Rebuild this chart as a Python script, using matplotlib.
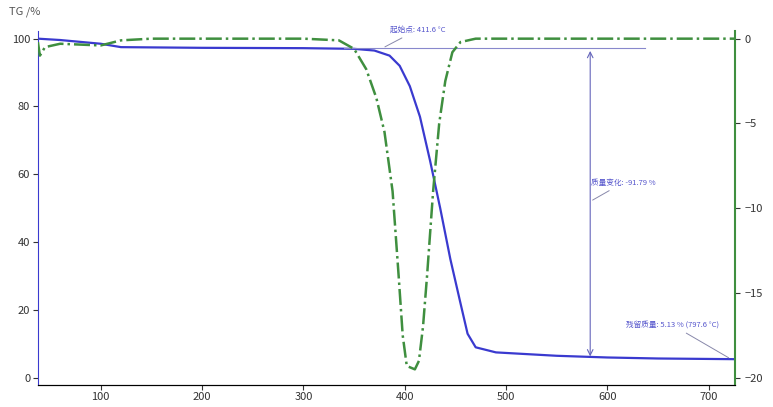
import matplotlib.pyplot as plt

plt.rcParams['font.family'] = ['Noto Sans CJK SC', 'DejaVu Sans']

# TG curve (mass %)
tg_t = [38, 60, 100, 120, 200, 300, 350, 370, 385, 395, 405, 415, 425, 435, 445,
        455, 462, 470, 490, 550, 600, 650, 726]
tg_m = [100, 99.6, 98.5, 97.5, 97.3, 97.2, 97, 96.5, 95, 92, 86, 77, 64, 50, 35,
        22, 13, 9, 7.5, 6.5, 6, 5.7, 5.5]

# DTG curve (right axis)
dtg_t = [38, 40, 45, 60, 100, 120, 150, 300, 335, 350, 362, 372, 380, 388, 394,
         398, 402, 410, 414, 418, 422, 428, 434, 440, 447, 455, 470, 500, 600, 726]
dtg_v = [-0.2, -1.0, -0.5, -0.3, -0.4, -0.1, 0, 0, -0.1, -0.6, -1.8, -3.5, -5.5, -9, -14,
         -17.5, -19.3, -19.5, -19, -17, -14, -9, -5, -2.5, -0.8, -0.2, 0, 0, 0, 0]

blue = '#3a3acf'
green = '#3f8f3f'
lab = '#5555cc'

fig = plt.figure(figsize=(7.73, 4.07), dpi=100)
ax = fig.add_axes([0.049, 0.055, 0.902, 0.87])
ax.plot(tg_t, tg_m, color=blue, lw=1.6)
ax.set_xlim(38, 726)
ax.set_ylim(-2, 102.4)
ax.set_xticks([100, 200, 300, 400, 500, 600, 700])
ax.set_yticks([0, 20, 40, 60, 80, 100])
ax.tick_params(labelsize=8, colors='#333333', pad=2)
for s in ['top', 'right']:
    ax.spines[s].set_visible(False)
ax.spines['left'].set_color(blue)

ax2 = ax.twinx()
ax2.plot(dtg_t, dtg_v, color=green, lw=1.8, ls='-.')
ax2.set_ylim(-20.4, 0.48)
ax2.set_yticks([0, -5, -10, -15, -20])
ax2.tick_params(labelsize=8, colors='#333333')
ax2.spines['right'].set_color(green)
ax2.spines['right'].set_linewidth(1.5)
for s in ['top', 'left']:
    ax2.spines[s].set_visible(False)

# annotations
ax.plot([340, 637], [97.2, 97.2], color='#8888cc', lw=0.8)
ax.annotate('起始点: 411.6 °C', xy=(378, 97.2), xytext=(385, 102),
            fontsize=5.5, color=lab, arrowprops=dict(arrowstyle='-', color='#8888aa', lw=0.7))
ax.annotate('', xy=(583, 5.5), xytext=(583, 97.2),
            arrowprops=dict(arrowstyle='<->', color='#6666bb', lw=0.8))
ax.annotate('质量变化: -91.79 %', xy=(583, 52), xytext=(584, 57),
            fontsize=5.5, color=lab, arrowprops=dict(arrowstyle='-', color='#8888aa', lw=0.7))
ax.annotate('残留质量: 5.13 % (797.6 °C)', xy=(722, 5.5), xytext=(618, 15),
            fontsize=5.5, color=lab, arrowprops=dict(arrowstyle='-', color='#8888aa', lw=0.7))

fig.text(0.012, 0.985, 'TG /%', fontsize=8, color='#555555', va='top')
fig.savefig('out.png', dpi=100)
